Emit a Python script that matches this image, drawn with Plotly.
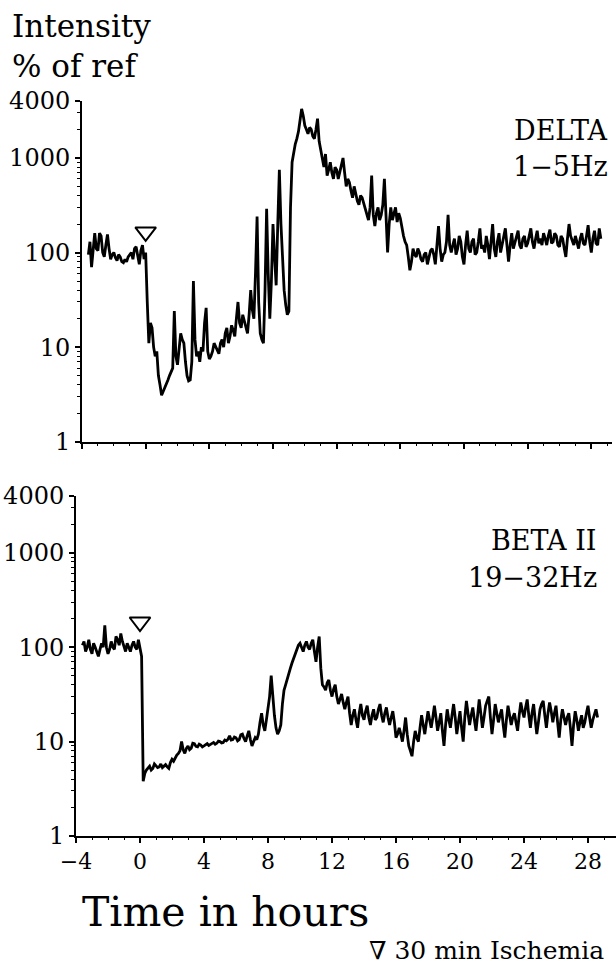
import math
import plotly.graph_objects as go

# ---------------- data ----------------
START_H = -3.6   # first sample, hours
STEP_H = 0.1     # sampling interval, hours

delta = [95, 130, 70, 120, 160, 110, 105, 160, 150, 100, 90, 120, 155, 110, 85, 95, 100, 88, 82, 95,
         90, 80, 78, 85, 80, 90, 95, 100, 85, 110, 115, 90, 75, 105, 120, 85, 100,
         30, 11, 18, 16, 10, 8, 9, 5, 4, 3.1, 3.4, 3.8, 4.2, 4.5, 5, 5.5, 6, 24, 8,
         6.5, 9, 14, 12, 11, 7, 5, 4.4, 4.5, 7, 50, 12, 8, 9, 7, 10, 9, 18, 26, 9,
         7.5, 8, 9, 11, 10, 9, 8.5, 11, 12, 10, 14, 16, 11, 13, 17, 15, 13, 20, 30, 18,
         16, 22, 19, 17, 14, 22, 40, 25, 20, 60, 240, 30, 14, 12, 11, 40, 290, 60, 20, 50,
         200, 90, 45, 200, 750, 200, 90, 40, 28, 22, 24, 300, 900, 1200, 1400, 1600, 1900, 2500, 3300, 2800,
         2200, 2000, 1800, 2100, 2000, 1700, 1600, 2000, 2600, 1500, 1200, 1000, 800, 1100, 650, 750, 900, 700, 600, 800,
         750, 600, 700, 850, 1000, 700, 500, 600, 550, 450, 380, 500, 420, 350, 320, 400, 380, 330, 300, 260,
         220, 300, 650, 250, 190, 260, 300, 220, 250, 320, 600, 250, 100, 200, 300, 220, 250, 300, 210, 260,
         230, 180, 150, 130, 120, 90, 65, 80, 110, 95, 90, 110, 100, 85, 80, 95, 100, 75, 90, 105,
         110, 95, 75, 120, 190, 110, 80, 95, 100, 130, 250, 120, 100, 120, 140, 95, 110, 150, 130, 90,
         75, 120, 170, 110, 100, 130, 140, 95, 100, 130, 180, 110, 120, 100, 150, 120, 85, 130, 200, 110,
         90, 130, 160, 100, 120, 150, 180, 120, 80, 120, 160, 110, 130, 150, 170, 120, 110, 140, 150, 115,
         125, 150, 180, 130, 110, 140, 170, 125, 140, 120, 160, 140, 120, 150, 175, 125, 130, 160, 150, 120,
         115, 150, 140, 110, 90, 140, 200, 150, 130, 120, 150, 130, 110, 140, 160, 125, 120, 150, 195, 130,
         100, 140, 170, 125, 120, 180, 140]

beta2 = [105, 115, 90, 100, 120, 95, 85, 110, 100, 90, 80, 95, 110, 100, 170, 100, 85, 95, 115, 100,
         95, 130, 120, 105, 140, 115, 100, 90, 110, 100, 90, 105, 115, 100, 95, 120, 100,
         80, 3.8, 4.6, 5.0, 5.2, 5.5, 5.0, 5.2, 5.8, 5.6, 5.3, 5.4, 5.8, 5.3, 5.5, 5.7, 5.4, 5.2, 6.0,
         6.5, 6.2, 6.8, 7.2, 7.5, 8, 10, 8.2, 7.5, 8.5, 9, 8.2, 8.5, 9.6, 9.5, 8.9, 8.8, 9.4, 9.2, 8.8,
         9.0, 9.3, 9.5, 9.1, 9.3, 9.7, 9.8, 9.4, 9.6, 10.1, 10, 9.7, 9.8, 10.4, 10.2, 10.6, 11.5, 10.4, 10.5, 11.2,
         11, 10.2, 10.5, 11.8, 12, 10.8, 10, 11.5, 13, 10.5, 9, 10, 11, 10.5, 12, 16, 20, 15, 13, 17,
         22, 30, 50, 28, 19, 14, 12, 13, 15, 25, 35, 40, 45, 52, 60, 68, 75, 85, 95, 105,
         110, 100, 90, 105, 115, 100, 95, 110, 120, 90, 70, 100, 130, 60, 40, 38, 35, 42, 45, 35,
         30, 36, 40, 30, 25, 28, 32, 26, 22, 26, 30, 20, 15, 19, 22, 17, 14, 20, 25, 19,
         17, 21, 24, 18, 15, 19, 22, 17, 18, 22, 25, 19, 16, 20, 23, 18, 15, 18, 21, 16,
         11, 12, 14, 12, 10, 13, 18, 12, 9, 8, 7, 10, 13, 11, 10, 14, 19, 15, 12, 16,
         21, 17, 14, 18, 24, 18, 13, 16, 20, 13, 9, 15, 22, 17, 14, 19, 25, 18, 12, 16,
         21, 14, 10, 18, 27, 20, 15, 19, 23, 17, 13, 19, 28, 20, 14, 18, 24, 27, 30, 18,
         12, 17, 25, 20, 16, 19, 22, 15, 11, 17, 24, 19, 15, 18, 20, 16, 13, 19, 26, 21,
         18, 23, 28, 19, 14, 20, 25, 17, 12, 16, 22, 25, 27, 19, 14, 20, 26, 21, 16, 20,
         24, 16, 11, 17, 22, 18, 15, 18, 20, 14, 9, 15, 21, 17, 13, 16, 19, 14, 16, 20,
         24, 18, 14, 17, 19, 22, 18]

hours_delta = [round(START_H + STEP_H * i, 2) for i in range(len(delta))]
hours_beta2 = [round(START_H + STEP_H * i, 2) for i in range(len(beta2))]

ischemia_time = [0]
delta_marker_level = [165]
beta2_marker_level = [185]

x_tick_vals = [-4, 0, 4, 8, 12, 16, 20, 24, 28]
x_tick_text = ["\u22124", "0", "4", "8", "12", "16", "20", "24", "28"]
y_tick_vals = [1, 10, 100, 1000, 4000]
y_tick_text = ["1", "10", "100", "1000", "4000"]
y_minor_vals = [2, 3, 4, 5, 6, 7, 8, 9, 20, 30, 40, 50, 60, 70, 80, 90,
                200, 300, 400, 500, 600, 700, 800, 900, 2000, 3000]

# ---------------- figure ----------------
W, H = 616, 966
FONT = "DejaVu Serif"

def px(x):
    return x / W

def py(y):
    return 1 - y / H

fig = go.Figure()
fig.add_trace(go.Scatter(x=hours_delta, y=delta, mode="lines",
                         line=dict(color="black", width=2.8), xaxis="x", yaxis="y",
                         showlegend=False, hoverinfo="skip"))
fig.add_trace(go.Scatter(x=hours_beta2, y=beta2, mode="lines",
                         line=dict(color="black", width=2.8), xaxis="x2", yaxis="y2",
                         showlegend=False, hoverinfo="skip"))
fig.add_trace(go.Scatter(x=ischemia_time, y=delta_marker_level, mode="markers",
                         marker=dict(symbol="triangle-down-open", size=18, color="black",
                                     line=dict(width=2, color="black")),
                         xaxis="x", yaxis="y", showlegend=False, hoverinfo="skip"))
fig.add_trace(go.Scatter(x=ischemia_time, y=beta2_marker_level, mode="markers",
                         marker=dict(symbol="triangle-down-open", size=18, color="black",
                                     line=dict(width=2, color="black")),
                         xaxis="x2", yaxis="y2", showlegend=False, hoverinfo="skip"))

common_x = dict(showline=True, linecolor="black", linewidth=2, showgrid=False, zeroline=False,
                automargin=False,
                ticks="outside", ticklen=5, tickwidth=2, tickcolor="black",
                tickvals=x_tick_vals, ticktext=x_tick_text,
                minor=dict(ticks="outside", dtick=1, ticklen=2, tickwidth=1, tickcolor="black"),
                tickfont=dict(family=FONT, size=22, color="black"))
common_y = dict(type="log", range=[0, math.log10(4000)], showline=True, linecolor="black",
                automargin=False,
                linewidth=2, showgrid=False, zeroline=False, ticks="outside", ticklen=5,
                tickwidth=2, tickcolor="black", tickvals=y_tick_vals, ticktext=y_tick_text,
                minor=dict(ticks="outside", tickvals=y_minor_vals, ticklen=3, tickwidth=1,
                           tickcolor="black"),
                tickfont=dict(family=FONT, size=24, color="black"))

fig.update_layout(
    template="none",
    width=W, height=H, autosize=False,
    margin=dict(l=0, r=0, t=0, b=0, pad=0),
    showlegend=False,
    paper_bgcolor="white", plot_bgcolor="white",
    xaxis=dict(common_x, domain=[px(82), px(612)], range=[-4, 29.3], anchor="y",
               showticklabels=False),
    yaxis=dict(common_y, domain=[py(441.7), py(101)], anchor="x"),
    xaxis2=dict(common_x, domain=[px(76), 1.0], range=[-4, 29.75], anchor="y2"),
    yaxis2=dict(common_y, domain=[py(836), py(496)], anchor="x2"),
)

def label(text, x, y, size, xanchor="left", yanchor="middle"):
    fig.add_annotation(text=text, x=px(x), y=py(y), xref="paper", yref="paper",
                       xanchor=xanchor, yanchor=yanchor, showarrow=False,
                       font=dict(family=FONT, size=size, color="black"))

label("Intensity", 10, 26, 31)
label("% of ref", 10, 66, 31)
label("DELTA", 610, 130, 27, xanchor="right")
label("1\u22125Hz", 610, 167, 27, xanchor="right")
label("BETA II", 599, 540, 27, xanchor="right")
label("19\u221232Hz", 599, 577, 27, xanchor="right")
label("Time in hours", 80, 912, 41)
label("\u2207 30 min Ischemia", 606, 950, 25, xanchor="right")

fig.write_html("out.html")
